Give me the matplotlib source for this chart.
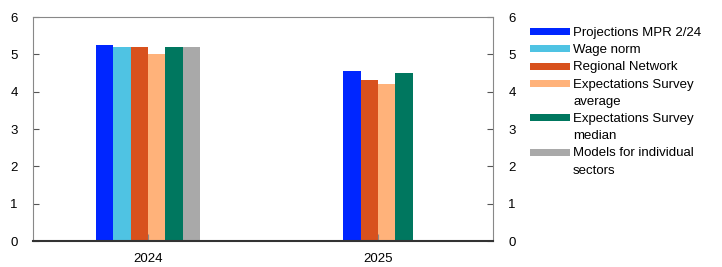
import matplotlib
matplotlib.use('Agg')
import matplotlib.pyplot as plt
from matplotlib.patches import Rectangle
import numpy as np

plt.rcParams['font.family'] = ['Liberation Sans', 'DejaVu Sans']

years = ['2024', '2025']
series = ['Projections MPR 2/24', 'Wage norm', 'Regional Network',
          'Expectations Survey\naverage', 'Expectations Survey\nmedian',
          'Models for individual\nsectors']
colors = ['#0026FF', '#4FC3E3', '#D8511D', '#FFB27A', '#00775F', '#A9A9A9']
values_2024 = [5.25, 5.2, 5.2, 5.0, 5.2, 5.2]
values_2025 = [4.55, np.nan, 4.3, 4.2, 4.5, np.nan]

W, H = 722, 267
fig = plt.figure(figsize=(W / 100, H / 100), dpi=100)
ax = fig.add_axes([33 / W, 1 - 241 / H, 460 / W, 224 / H])

width = 0.0755
for i, vals in enumerate([values_2024, values_2025]):
    idx = [k for k, v in enumerate(vals) if not np.isnan(v)]
    n = len(idx)
    for j, k in enumerate(idx):
        ax.bar(i + (j - (n - 1) / 2) * width, vals[k], width=width,
               color=colors[k], linewidth=0)

ax.set_xlim(-0.5, 1.5)
ax.set_ylim(0, 6)
ax.set_xticks(range(len(years)))
ax.set_xticklabels(years)
ax.set_yticks(range(7))

for s in ['top', 'left', 'right']:
    ax.spines[s].set_color('#888888')
    ax.spines[s].set_linewidth(0.8)
ax.spines['bottom'].set_color('#333333')
ax.spines['bottom'].set_linewidth(1.5)

ax.tick_params(axis='y', direction='in', length=4, color='#555555',
               left=True, right=True, labelleft=True, labelright=True,
               labelsize=9.5, pad=11)
ax.tick_params(axis='x', direction='in', length=5, color='#888888',
               labelsize=9.5, pad=9)

# legend drawn by hand so the swatch sits on the first line of wrapped labels
line_h = 17.2
y = 31.7
for label, c in zip(series, colors):
    fig.add_artist(Rectangle((529.5 / W, 1 - (y + 3.4) / H), 40.5 / W, 6.8 / H,
                             transform=fig.transFigure, facecolor=c,
                             edgecolor='none'))
    for part in label.split('\n'):
        fig.text(573 / W, 1 - (y + 4.3) / H, part, fontsize=9.5,
                 va='baseline', ha='left')
        y += line_h

fig.savefig('out.png', dpi=100)
